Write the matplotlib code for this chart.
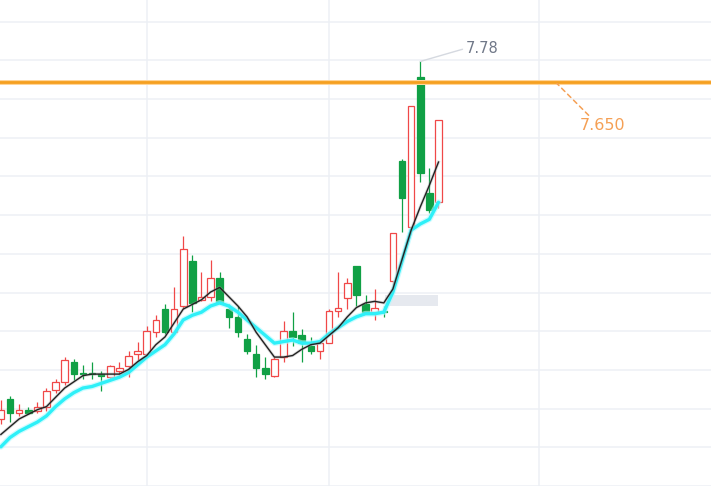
import matplotlib
matplotlib.use("Agg")
import matplotlib.pyplot as plt
from matplotlib.patches import Rectangle
import numpy as np

# daily bars, oldest first (only the part that is visible in the chart)
opens = [5.47, 5.60, 5.51, 5.53, 5.52, 5.55, 5.66, 5.71, 5.84, 5.77,
         5.77, 5.76, 5.74, 5.78, 5.81, 5.89, 5.89, 6.03, 6.18, 6.03,
         6.20, 6.49, 6.24, 6.26, 6.38, 6.18, 6.13, 5.99, 5.89, 5.80,
         5.75, 5.87, 6.04, 6.01, 5.94, 5.91, 5.96, 6.17, 6.25, 6.46,
         6.21, 6.16, 6.17, 6.36, 7.14, 6.71, 7.68, 6.93, 6.87]
closes = [5.53, 5.51, 5.53, 5.51, 5.55, 5.65, 5.71, 5.85, 5.76, 5.76,
          5.76, 5.75, 5.81, 5.80, 5.88, 5.91, 6.04, 6.11, 6.03, 6.18,
          6.57, 6.22, 6.26, 6.38, 6.22, 6.13, 6.03, 5.91, 5.80, 5.76,
          5.86, 6.04, 6.00, 5.96, 5.91, 5.96, 6.17, 6.19, 6.35, 6.27,
          6.16, 6.19, 6.16, 6.67, 6.90, 7.49, 7.06, 6.82, 7.40]
highs = [5.59, 5.62, 5.57, 5.55, 5.58, 5.67, 5.73, 5.87, 5.86, 5.82,
         5.84, 5.78, 5.82, 5.84, 5.91, 5.97, 6.07, 6.14, 6.21, 6.32,
         6.65, 6.53, 6.42, 6.50, 6.42, 6.21, 6.20, 6.02, 5.95, 5.87,
         5.87, 6.10, 6.16, 6.05, 6.00, 5.97, 6.18, 6.42, 6.38, 6.46,
         6.27, 6.31, 6.20, 6.67, 7.15, 7.49, 7.78, 7.09, 7.40]
lows = [5.44, 5.45, 5.49, 5.50, 5.51, 5.52, 5.64, 5.69, 5.72, 5.73,
        5.73, 5.65, 5.73, 5.76, 5.74, 5.85, 5.88, 6.00, 6.02, 6.02,
        6.19, 6.16, 6.23, 6.23, 6.21, 6.06, 6.00, 5.89, 5.74, 5.73,
        5.74, 5.84, 5.94, 5.84, 5.89, 5.86, 5.96, 6.13, 6.18, 6.20,
        6.15, 6.11, 6.13, 6.30, 6.68, 6.70, 7.00, 6.80, 6.83]

# the two average lines
ma_short = [5.37, 5.42, 5.47, 5.50, 5.53, 5.55, 5.61, 5.67, 5.71, 5.75,
            5.76, 5.76, 5.76, 5.76, 5.79, 5.84, 5.88, 5.95, 6.00, 6.09,
            6.18, 6.21, 6.24, 6.29, 6.32, 6.26, 6.20, 6.13, 6.03, 5.95,
            5.87, 5.87, 5.88, 5.92, 5.95, 5.96, 6.01, 6.06, 6.13, 6.19,
            6.22, 6.23, 6.22, 6.31, 6.50, 6.69, 6.84, 6.98, 7.13]
ma_long = [5.29, 5.35, 5.39, 5.42, 5.45, 5.49, 5.55, 5.60, 5.64, 5.67,
           5.68, 5.70, 5.72, 5.74, 5.77, 5.82, 5.87, 5.91, 5.95, 6.02,
           6.11, 6.14, 6.16, 6.20, 6.22, 6.20, 6.16, 6.11, 6.06, 6.01,
           5.96, 5.97, 5.98, 5.96, 5.96, 5.97, 6.02, 6.06, 6.10, 6.13,
           6.15, 6.15, 6.16, 6.29, 6.49, 6.69, 6.73, 6.76, 6.87]

split_bars = [16, 36, 59]   # vertical split lines sit on these bars
mark_value = 7.650
up_col = '#f04848'
down_col = '#10a045'

fig = plt.figure(figsize=(7.11, 4.86), dpi=100)
ax = fig.add_axes([0, 0, 1, 1])
ax.set_xlim(-0.0965, 77.89)
ax.set_ylim(5.0416, 8.1771)
for s in ax.spines.values():
    s.set_visible(False)

# grid
ax.set_yticks(np.arange(8.037, 5.0, -0.25))
ax.set_xticks(split_bars)
ax.tick_params(length=0, labelleft=False, labelbottom=False)
ax.grid(True, color='#edf0f5', linewidth=1.1, zorder=0)
ax.set_axisbelow(True)

# candles
w = 0.72
for i in range(len(opens)):
    o, c, h, l = opens[i], closes[i], highs[i], lows[i]
    if c >= o:
        ax.plot([i, i], [l, h], color=up_col, lw=0.9, zorder=2, solid_capstyle='butt')
        ax.add_patch(Rectangle((i - w / 2, o), w, c - o, facecolor='white',
                               edgecolor=up_col, lw=0.9, zorder=3))
    else:
        ax.plot([i, i], [l, h], color=down_col, lw=0.9, zorder=2, solid_capstyle='butt')
        ax.add_patch(Rectangle((i - w / 2, c), w, o - c, facecolor=down_col,
                               edgecolor=down_col, lw=0.9, zorder=3))

x = np.arange(len(opens))
ax.plot(x, ma_long, color='#aefaff', lw=4.2, alpha=0.6, zorder=4, solid_capstyle='round')
ax.plot(x, ma_long, color='#2ef0f8', lw=2.4, zorder=4, solid_capstyle='round')
ax.plot(x, ma_short, color='#9a9a9a', lw=2.2, alpha=0.35, zorder=5)
ax.plot(x, ma_short, color='#222222', lw=1.0, zorder=5)

# grey box under the last bars
ax.add_patch(Rectangle((42.13, 6.198), 5.78, 0.076, facecolor='#e6e9ef',
                       edgecolor='none', zorder=1))

# mark line
ax.axhline(mark_value, color='#ffd59a', lw=3.6, zorder=6)
ax.axhline(mark_value, color='#f5a020', lw=2.0, zorder=6)
ax.annotate(f'{mark_value:.3f}', xy=(555 / 711, mark_value),
            xycoords=('axes fraction', 'data'),
            xytext=(25, -44), textcoords='offset pixels',
            ha='left', va='center', fontsize=11.5, color='#f5a055',
            arrowprops=dict(arrowstyle='-', color='#f5a055', lw=1.1,
                            linestyle=(0, (3, 2.5)), shrinkA=0, shrinkB=2,
                            relpos=(0.25, 1)),
            zorder=7)

# highest point
top = int(np.argmax(highs))
ax.annotate(f'{highs[top]:.2f}', xy=(top, highs[top]),
            xytext=(45, 13), textcoords='offset pixels',
            ha='left', va='center', fontsize=10.5, color='#707888',
            arrowprops=dict(arrowstyle='-', color='#d5d9e0', lw=1.0,
                            shrinkA=0, shrinkB=0, relpos=(0, 0.5)),
            zorder=7)

fig.savefig('out.png', dpi=100)
